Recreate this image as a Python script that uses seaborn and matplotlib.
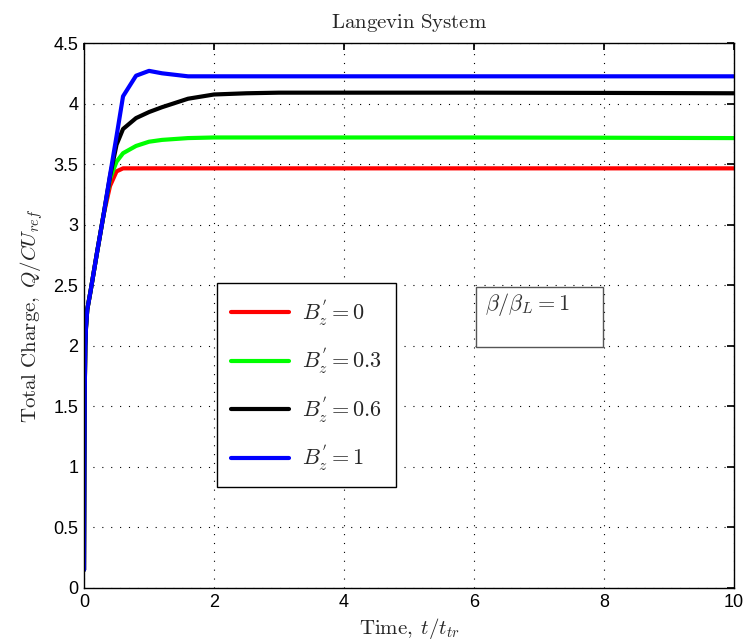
import numpy as np
import pandas as pd
import seaborn as sns
import matplotlib.pyplot as plt
from matplotlib.patches import Rectangle

# time samples and total charge for each field strength
t = [0, 0.005, 0.01, 0.02, 0.03, 0.05, 0.1, 0.2, 0.3, 0.4, 0.5, 0.6, 0.8, 1.0, 1.2,
     1.6, 2.0, 2.5, 3.0, 4.0, 6.0, 8.0, 10.0]
q_b0 = [0.15, 1.0, 1.6, 2.0, 2.15, 2.3, 2.45, 2.77, 3.08, 3.32, 3.44, 3.465, 3.465, 3.465,
        3.465, 3.465, 3.465, 3.465, 3.465, 3.465, 3.465, 3.465, 3.465]
q_b03 = [0.15, 1.0, 1.6, 2.0, 2.15, 2.3, 2.45, 2.77, 3.08, 3.38, 3.52, 3.59, 3.65, 3.685,
         3.70, 3.715, 3.72, 3.72, 3.72, 3.72, 3.72, 3.718, 3.715]
q_b06 = [0.15, 1.0, 1.6, 2.0, 2.15, 2.3, 2.45, 2.77, 3.08, 3.40, 3.66, 3.79, 3.88, 3.93,
         3.97, 4.04, 4.075, 4.085, 4.09, 4.09, 4.09, 4.088, 4.085]
q_b1 = [0.15, 1.0, 1.6, 2.0, 2.15, 2.3, 2.45, 2.77, 3.08, 3.41, 3.73, 4.06, 4.23, 4.27,
        4.25, 4.225, 4.225, 4.225, 4.225, 4.225, 4.225, 4.225, 4.225]
labels = [r"$B^{'}_z=0$", r"$B^{'}_z=0.3$", r"$B^{'}_z=0.6$", r"$B^{'}_z=1$"]
colors = ["#ff0000", "#00ff00", "#000000", "#0000ff"]

sns.set_theme()
sns.set_style("white")
plt.rcParams["font.family"] = ["Liberation Sans", "DejaVu Sans"]
plt.rcParams["mathtext.fontset"] = "cm"

df = pd.concat([
    pd.DataFrame({"t": t, "Q": q, "case": lab})
    for q, lab in zip([q_b0, q_b03, q_b06, q_b1], labels)
])

fig = plt.figure(figsize=(7.45, 6.44), dpi=100)
ax = fig.add_axes([0.1128, 0.087, 0.8724, 0.8462])

sns.lineplot(data=df, x="t", y="Q", hue="case", hue_order=labels,
             palette=colors, linewidth=3, ax=ax, sort=False, estimator=None)

ax.set_xlim(0, 10)
ax.set_ylim(0, 4.5)
ax.set_xticks(np.arange(0, 11, 2))
ax.set_yticks(np.arange(0, 4.51, 0.5))
ax.set_yticklabels(["0", "0.5", "1", "1.5", "2", "2.5", "3", "3.5", "4", "4.5"])
ax.tick_params(direction="in", length=5, labelsize=13, top=True, right=True,
               colors="black", pad=4)
ax.grid(True, linestyle=(0, (1, 7)), color="black", linewidth=0.8)
for s in ax.spines.values():
    s.set_color("black")
    s.set_linewidth(1.0)

ax.set_title(r"$\mathrm{Langevin\ System}$", fontsize=15, pad=11)
ax.set_xlabel(r"$\mathrm{Time,}\;t/t_{tr}$", fontsize=15, labelpad=4)
ax.set_ylabel(r"$\mathrm{Total\ Charge,}\;Q/CU_{ref}$", fontsize=15, labelpad=6)

leg = ax.legend(loc="lower left", bbox_to_anchor=(0.2046, 0.1853), fontsize=16,
                handlelength=2.6, labelspacing=0.81, borderpad=0.62,
                handletextpad=0.6, fancybox=False, framealpha=1,
                edgecolor="black", borderaxespad=0)
leg.get_frame().set_linewidth(1.0)

ax.add_patch(Rectangle((0.603, 0.442), 0.195, 0.110, transform=ax.transAxes,
                       facecolor="white", edgecolor="#555555", linewidth=1.0,
                       zorder=5))
ax.text(0.617, 0.545, r"$\beta/\beta_L=1$", transform=ax.transAxes,
        fontsize=16, va="top", ha="left", color="#333333", zorder=6)

plt.savefig("out.png", dpi=100)
